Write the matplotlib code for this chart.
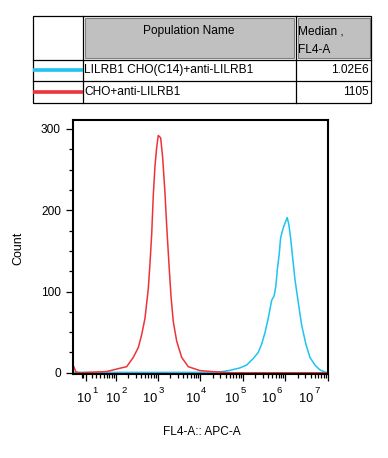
import numpy as np
import matplotlib
matplotlib.use('Agg')
import matplotlib.pyplot as plt
from matplotlib.patches import Rectangle
from matplotlib.transforms import blended_transform_factory, ScaledTranslation

plt.rcParams['font.family'] = ['Liberation Sans', 'DejaVu Sans']

# Histogram data (FL4-A intensity, count)
red_x = [-12, -7, 0, 59, 128, 185, 266, 349, 420, 502, 600, 658, 722, 787, 863, 946,
         1032, 1175, 1309, 1482, 1625, 1842, 2052, 2328, 2800, 3666, 5246, 9890,
         24450, 60000, 1.0e7]
red_y = [10, 1, 0, 1.5, 5.6, 7.5, 19, 31, 47, 67, 103, 134, 170, 218, 254, 277,
         292, 289, 265, 222, 182, 134, 95, 63, 39, 19, 7.5, 2.7,
         1, 0, 0]

blue_x = [-12, 10000, 29200, 50200, 86200, 123900, 177000, 232000, 279000, 334000,
          400000, 481000, 553000, 606000, 651000, 725000, 782000, 900000, 1.025e6,
          1.118e6, 1.226e6, 1.343e6, 1.5e6, 1.70e6, 2.03e6, 2.44e6, 3.08e6, 3.83e6,
          5.02e6, 6.57e6, 8.6e6, 1.0e7]
blue_y = [0.5, 0.5, 1, 3, 6, 9.5, 17.5, 25, 35, 49,
          67, 89, 95, 107, 126, 146, 166, 178, 186,
          191, 182, 166, 142, 115, 87, 59, 35, 19,
          9.5, 3.6, 1, 0]

# Legend table
pop_names = ['LILRB1 CHO(C14)+anti-LILRB1', 'CHO+anti-LILRB1']
medians = ['1.02E6', '1105']
colors = ['#1ec3f0', '#f03238']

decades = [1, 2, 3, 4, 5, 6, 7]
label_shift = [4.7, 5, 0, -0.3, -3.3, -9.3, -14.4]  # px, right edge of "10" vs tick

fig = plt.figure(figsize=(3.88, 4.58), dpi=100)

# ---- table drawn in pixel coordinates ----
tab = fig.add_axes([0, 0, 1, 1])
tab.set_xlim(0, 388)
tab.set_ylim(458, 0)
tab.axis('off')

fs = 8.6
x0, x1, x2, x3 = 33, 82.7, 295.5, 371
y0, y1, y2, y3 = 16, 59.5, 81, 103
tab.add_patch(Rectangle((84.5, 17.5), 209, 40.5, facecolor='#c0c0c0', edgecolor='#808080', lw=0.8))
tab.add_patch(Rectangle((297.5, 17.5), 72, 40.5, facecolor='#c0c0c0', edgecolor='#808080', lw=0.8))
tab.add_patch(Rectangle((x0, y0), x3 - x0, y3 - y0, fill=False, edgecolor='black', lw=0.9))
for yy in [y1, y2]:
    tab.plot([x0, x3], [yy, yy], color='black', lw=0.9)
for xx in [x1, x2]:
    tab.plot([xx, xx], [y0, y3], color='black', lw=0.9)

tab.text((84.5 + 293.5) / 2, 31, 'Population Name', ha='center', va='center', fontsize=fs)
tab.text(298, 31, 'Median ,', ha='left', va='center', fontsize=fs)
tab.text(298, 50, 'FL4-A', ha='left', va='center', fontsize=fs)
for i, (name, med, c) in enumerate(zip(pop_names, medians, colors)):
    yc = [70, 92][i]
    tab.plot([x0, x1], [yc - 0.5, yc - 0.5], color=c, lw=2.6, solid_capstyle='butt')
    tab.text(84, yc, name, ha='left', va='center', fontsize=fs)
    tab.text(368.5, yc, med, ha='right', va='center', fontsize=fs)

# ---- histogram ----
ax = fig.add_axes([72.7 / 388, (458 - 374) / 458, (328 - 72.7) / 388, (374 - 120) / 458])

def fwd(x):
    return np.arcsinh(np.asarray(x, dtype=float) / 30.0) / np.log(10)

def inv(y):
    return 30.0 * np.sinh(np.asarray(y, dtype=float) * np.log(10))

ax.set_xscale('function', functions=(fwd, inv))
ax.plot(blue_x, blue_y, color=colors[0], lw=1.1)
ax.plot(red_x, red_y, color=colors[1], lw=1.1)

ax.set_xlim(-12.5, 1.02e7)
ax.set_ylim(-1.5, 311)

major = [10.0 ** d for d in decades]
minor = [k * 10.0 ** n for n in range(1, 7) for k in range(2, 10)] + [3, 5]
ax.set_xticks(major)
ax.set_xticks(minor, minor=True)
ax.set_xticklabels([])
ax.set_yticks([0, 100, 200, 300])
ax.set_yticks(np.arange(0, 311, 25), minor=True)

for s in ax.spines.values():
    s.set_linewidth(1.5)
ax.tick_params(which='major', length=5, width=0.9, labelsize=fs, pad=3.5)
ax.tick_params(which='minor', length=3, width=0.9)

trans = blended_transform_factory(ax.transData, ax.transAxes)
for d, v, dx in zip(decades, major, label_shift):
    t_base = trans + ScaledTranslation(dx / 100, -27.7 / 100, fig.dpi_scale_trans)
    t_exp = trans + ScaledTranslation((dx + 1) / 100, -18.7 / 100, fig.dpi_scale_trans)
    ax.text(v, 0, '10', transform=t_base, ha='right', va='baseline', fontsize=9.2)
    ax.text(v, 0, str(d), transform=t_exp, ha='left', va='baseline', fontsize=6.8)

fig.text(18 / 388, 1 - 248 / 458, 'Count', rotation=90, ha='center', va='center', fontsize=9)
fig.text(202 / 388, 1 - 432 / 458, 'FL4-A:: APC-A', ha='center', va='center', fontsize=fs)

fig.savefig('out.png', dpi=100)
